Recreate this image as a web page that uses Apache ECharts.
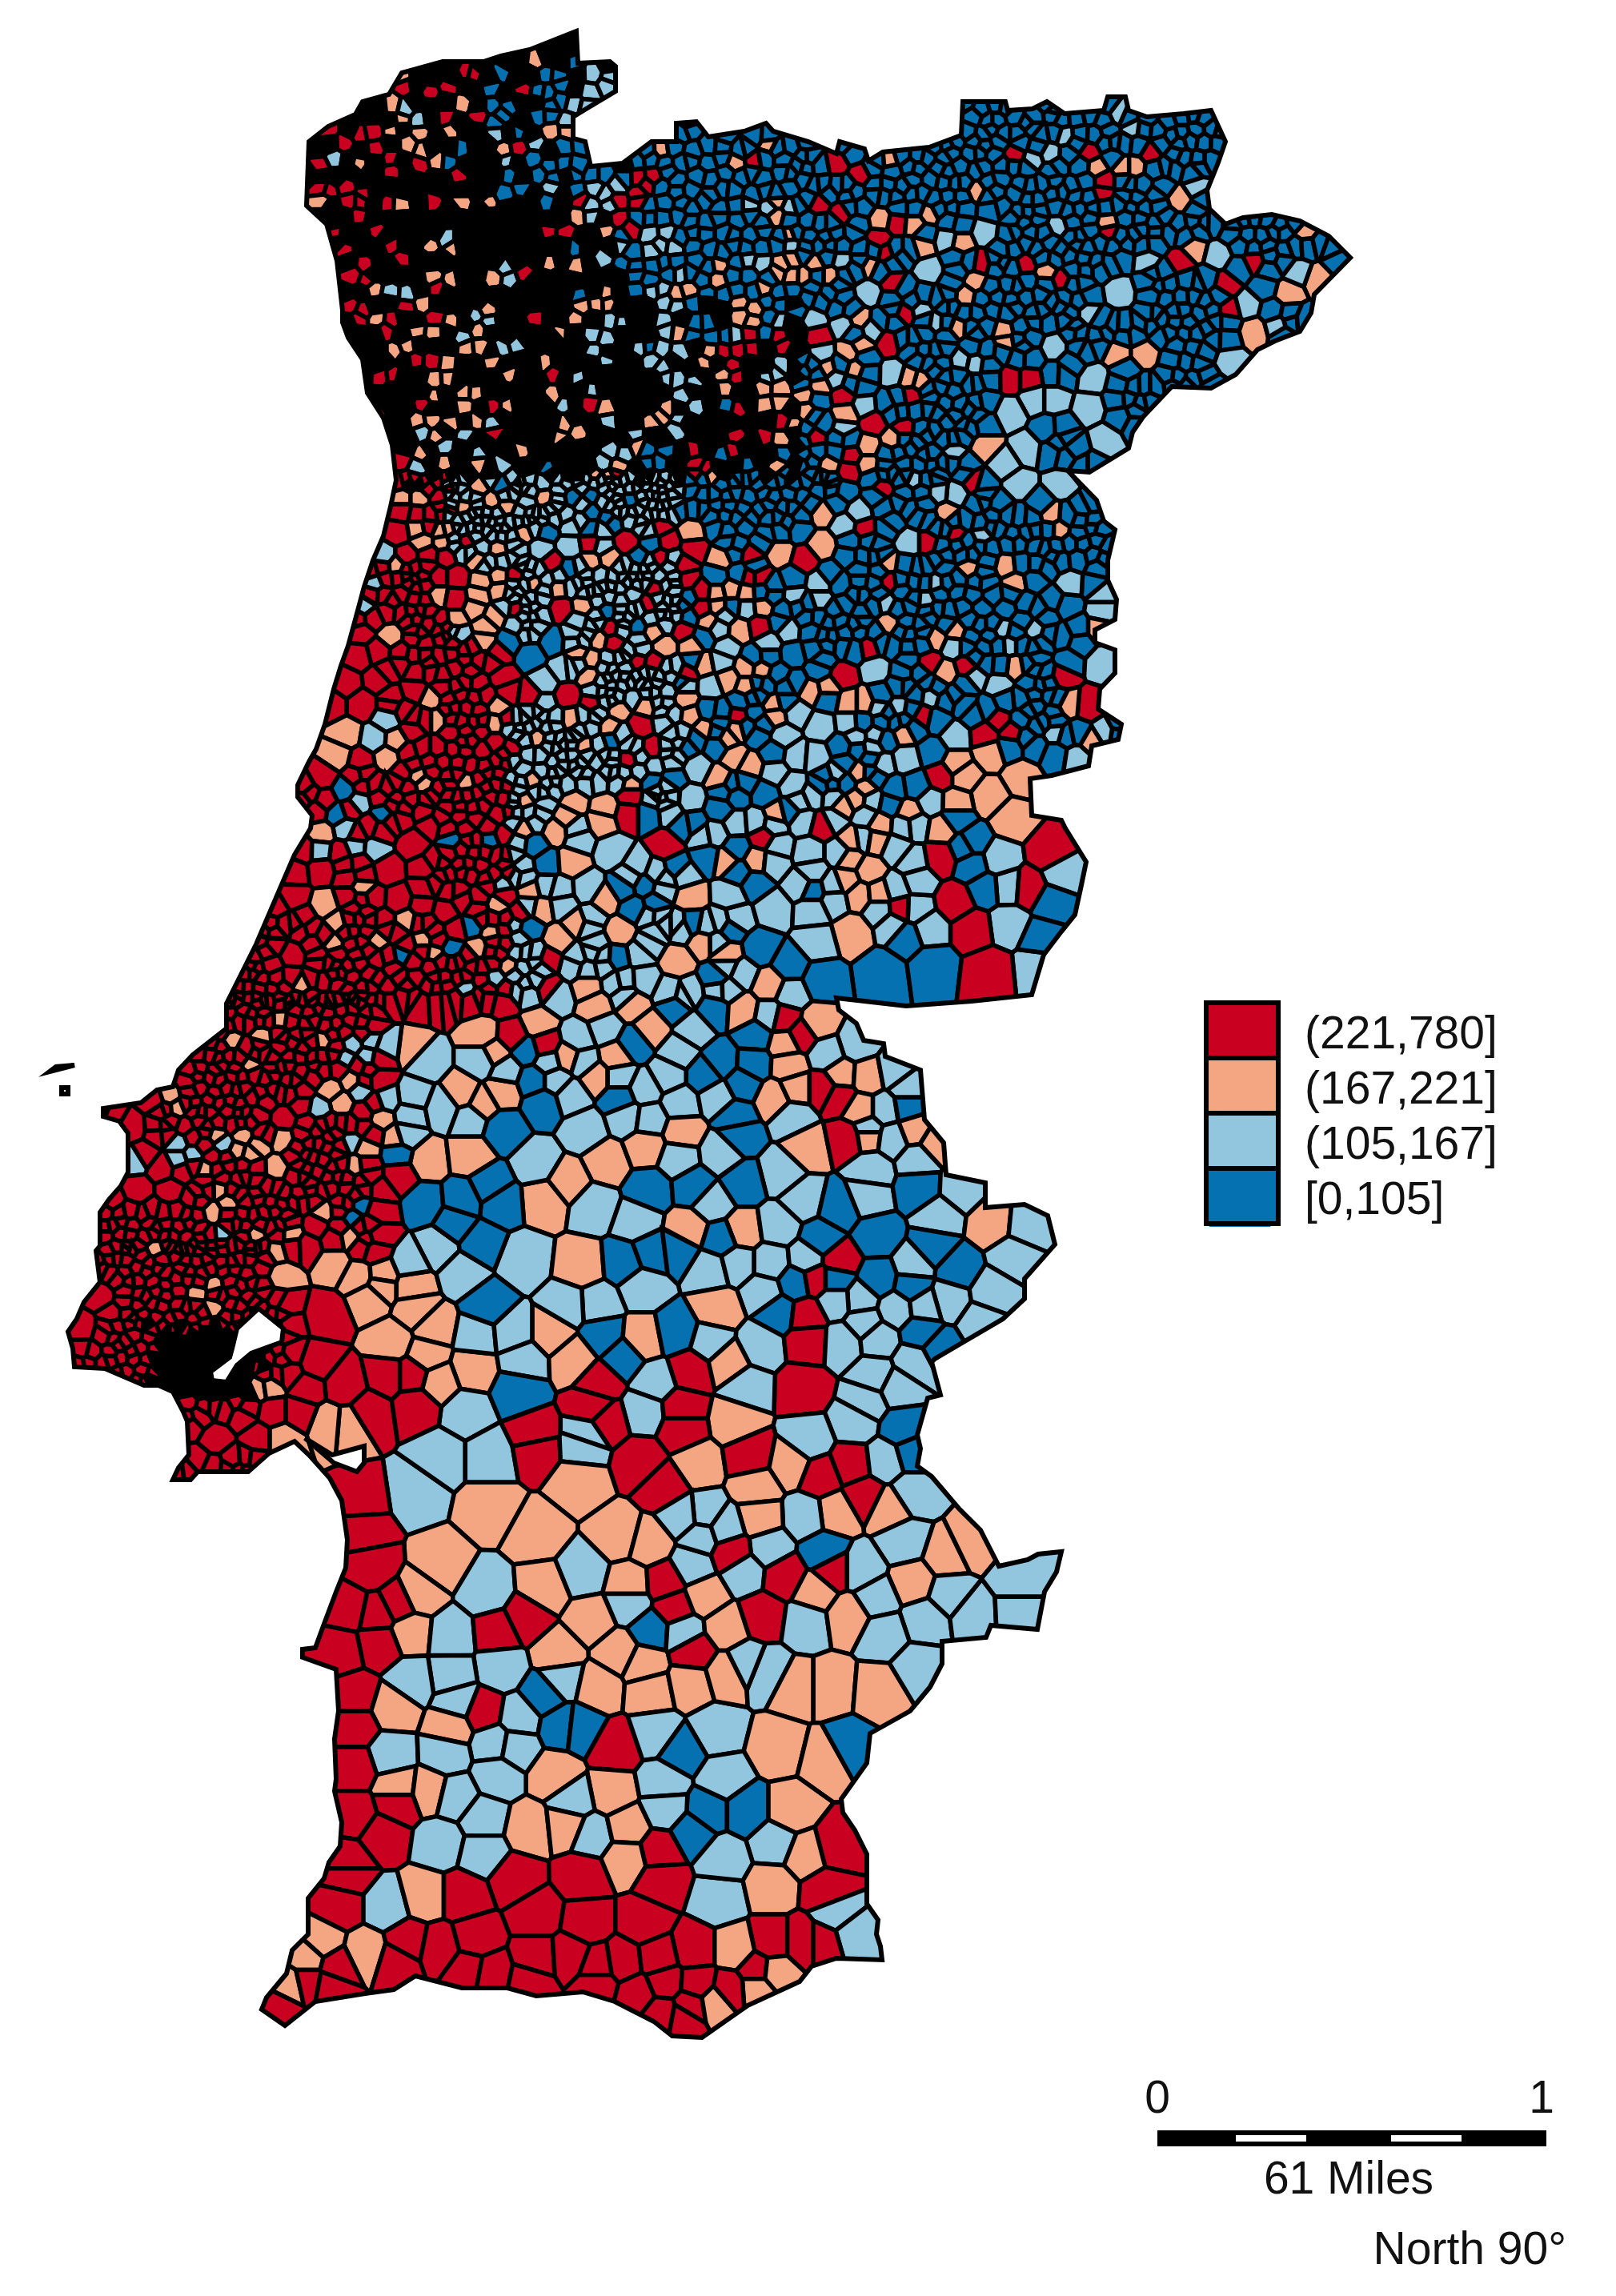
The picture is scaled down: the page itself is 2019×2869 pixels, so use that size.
<!DOCTYPE html>
<html><head><meta charset="utf-8"><style>html,body{margin:0;background:#fff}#c{width:2019px;height:2869px}</style>
<script src="https://cdn.jsdelivr.net/npm/echarts@6/dist/echarts.min.js"></script></head>
<body><div id="c"></div>
<script>
// ---------- legend classes ----------
const classLabels = ['(221,780]', '(167,221]', '(105,167]', '[0,105]'];
const classColors = ['#ca0020', '#f4a582', '#92c5de', '#0571b0'];
const classBreaks = [[221, 780], [167, 221], [105, 167], [0, 105]];
// representative value of each class, letters r/o/l/b; "." = parishes too small to show anything but border
const classValue = { r: 300, o: 190, l: 135, b: 60 };

// ---------- country outline (map units) ----------
const coastline = [[720,39],[662,62],[626,70],[604,77],[553,77],[502,91],[486,118],[453,127],[444,143],[410,158],[386,177],[383,257],[408,280],[421,326],[428,388],[428,403],[435,422],[453,449],[459,491],[479,522],[490,556],[495,600],[488,633],[479,670],[466,700],[455,733],[444,774],[435,807],[426,832],[417,861],[406,905],[395,936],[386,952],[372,981],[372,996],[390,1019],[388,1035],[368,1068],[350,1110],[320,1180],[290,1240],[283,1254],[283,1285],[241,1318],[223,1337],[216,1358],[196,1362],[176,1378],[129,1385],[129,1395],[149,1401],[160,1416],[160,1465],[151,1482],[136,1499],[125,1515],[125,1557],[120,1563],[125,1602],[105,1627],[96,1648],[85,1664],[91,1685],[93,1708],[131,1710],[180,1731],[198,1731],[216,1739],[229,1764],[234,1776],[236,1818],[223,1834],[216,1849],[238,1849],[247,1839],[310,1839],[336,1816],[368,1801],[386,1818],[412,1847],[427,1875],[434,1924],[432,1959],[420,1989],[405,2029],[394,2059],[378,2061],[378,2071],[420,2086],[423,2138],[418,2173],[420,2223],[418,2238],[427,2277],[425,2307],[411,2327],[405,2347],[385,2372],[385,2417],[365,2437],[358,2466],[333,2496],[327,2511],[356,2531],[394,2501],[456,2491],[492,2486],[519,2469],[577,2484],[634,2484],[670,2494],[728,2489],[768,2501],[817,2526],[840,2544],[877,2546],[934,2506],[999,2476],[1014,2457],[1045,2447],[1102,2449],[1100,2432],[1095,2417],[1097,2399],[1083,2379],[1083,2317],[1068,2287],[1053,2265],[1051,2248],[1083,2203],[1087,2166],[1137,2138],[1162,2108],[1177,2079],[1177,2051],[1232,2046],[1238,2031],[1296,2036],[1305,1989],[1320,1964],[1326,1939],[1297,1942],[1284,1949],[1248,1957],[1225,1912],[1198,1885],[1164,1845],[1146,1832],[1150,1810],[1146,1793],[1159,1747],[1175,1743],[1164,1702],[1168,1698],[1190,1685],[1253,1648],[1280,1623],[1280,1598],[1318,1555],[1309,1519],[1280,1505],[1231,1509],[1231,1478],[1182,1468],[1179,1428],[1155,1399],[1150,1337],[1106,1320],[1104,1304],[1079,1300],[1070,1279],[1048,1262],[1045,1247],[1132,1257],[1214,1251],[1289,1243],[1304,1193],[1326,1164],[1343,1143],[1351,1106],[1357,1077],[1331,1035],[1326,1025],[1289,1019],[1287,973],[1314,969],[1360,957],[1364,932],[1397,924],[1401,905],[1372,886],[1374,861],[1393,841],[1393,812],[1368,803],[1368,787],[1393,774],[1395,749],[1384,725],[1384,700],[1393,662],[1379,651],[1370,625],[1334,588],[1361,590],[1410,560],[1415,540],[1428,521],[1464,483],[1513,485],[1544,468],[1571,437],[1593,426],[1624,414],[1638,391],[1642,368],[1687,322],[1660,295],[1624,276],[1589,268],[1553,272],[1531,280],[1511,261],[1508,238],[1522,203],[1531,177],[1513,138],[1479,142],[1433,146],[1410,138],[1406,121],[1384,121],[1379,138],[1330,142],[1308,127],[1290,136],[1259,138],[1256,127],[1203,127],[1201,169],[1161,184],[1103,190],[1085,201],[1080,186],[1049,177],[1045,192],[1010,177],[966,164],[957,154],[930,164],[885,171],[870,152],[845,154],[845,177],[814,177],[778,204],[738,208],[731,177],[716,173],[716,146],[734,135],[769,114],[769,83],[762,77],[722,79]];
const tejoEstuary = [[323,1635],[354,1660],[352,1677],[314,1691],[296,1706],[283,1727],[265,1725],[263,1714],[287,1696],[290,1685],[296,1660]];
const sadoEstuary = [[381,1797],[415,1818],[455,1807],[455,1828],[446,1839],[417,1828]];
const islands = [[[62,1339],[93,1331],[70,1333]],[[77,1359],[85,1359],[85,1367],[77,1367]]];

// ---------- far-north-west parishes read row by row: "column class" ----------
const northRows = ["","","16o19b","7o11r12r14b17b18b20l21l","7r9r10r13b15r16b17b18b20l21l","6o7l11o13b14b17b18b19l20l","7o8l10r12r13b14b16b17b18l","2r4r5r6o8o10o13l15b17o18o","3r5r7o8o11b14o15r16l18b19b25o26b27b28b29b30b32o33b34b","1r2l4o6r8r9o10b14l16b17b18b19b25b26b27b28b30o31r32b33b34b","6r11r14b16b17b19b20b21b22b23r24r25b26b27b28b30b32b33b34b","1r2r3r4r14b15b17l19b20l21l22l23r24r26b28b29b30b31b33b","1o3r4r6r7o9r11o13o17b19r20l21l22r23r25b26b27b28b29b31l32l33o34l","4r19o20l22r23b25b28b29b30b33o","2r5r10l17r18r21o22b23r24l25l27b28b29b30b32b33b34o","3r6r9o10o19b22l23b24l25l26l27b28b29b30b31b33b34l","4r7r14l17o19o21l22b24b25b27b29o30b31l32l33o34o","3r4r9o10o13o14l15r23b25b26l29o30b33o34o","5o6l7l9r19b21o24l25l26o27o30b32o33b34b","3r4r7r8o13o19o20o21o25l26l27b30o31o32b33b","4r5o6r9r10o12l13l16r19o21l22l25l27b28b30o31o32b33l","2r6r8o9o11l12o18o20l21l25l26o27b28b29b30l31r32b33r","6o7o11o12o14l15l20l23l24b25l26l28o29r30r31r33r","8r9r10o13o17o21l24l25l28o30r33l","3r5r6r9o10o14o17r19l25l26l27l29o30r32l33l","9o11o12o17o20l26l29o32o33o","5r8r11o13r14o18l20r21o25o27l29b30r32o33o","8o9o10o12o13l18o21l24o25o26l33r34o","8l9o11l13r18o19o23l26l30r32r33o","8o10l12l15o21l22l23o24b25b27r29b30r33b","7r8l10o12o14l17b21l22o24b25b27r28r31b33o","16l20o21o22r23r25l27r28o30b31b33b"];

const cropNE = "100,270,r 170,310,r 50,405,r 115,435,r 220,520,r 270,465,r 240,565,r 810,235,r 980,235,r 600,245,r 845,370,r 850,330,r 860,495,r 1065,590,R 1270,590,r 1190,670,r 1200,750,r 505,600,r 630,600,r 730,650,r 260,660,r 290,760,r 50,835,R 250,855,r 590,975,R 640,975,r 310,1030,r 205,1120,R 290,1135,r 40,1165,r 140,1225,r 135,1275,R 230,1330,r 485,1310,r 180,1465,r 435,1480,r 360,1510,r 120,1030,r 250,260,o 905,285,o 935,285,o 830,285,o 495,360,o 1060,390,O 360,435,o 225,455,O 320,470,o 450,530,o 340,540,o 195,605,o 40,600,o 85,640,o 10,640,o 490,655,o 460,705,o 165,780,o 440,805,o 570,820,o 575,855,o 690,625,o 855,465,o 1100,550,o 1415,495,o 1450,650,O 1365,695,O 1270,820,O 885,890,o 965,890,O 170,865,o 135,890,o 155,945,o 75,940,o 335,985,o 305,975,o 125,1090,O 15,1080,o 190,1195,o 260,1175,o 515,1195,O 80,1255,o 190,1255,o 60,1410,o 410,1415,o 700,1420,o 725,1470,o 60,1520,O 10,1030,o 55,1000,o 650,260,l 700,240,l 740,180,l 890,110,l 930,155,l 1110,350,l 515,495,L 720,475,l 410,520,l 360,620,L 115,590,l 190,695,L 340,750,l 380,790,l 40,780,l 120,800,l 200,815,l 890,690,L,34 970,590,l 1170,570,L,30 1390,625,l 1250,735,L 1335,800,l 1200,915,L 805,760,l 710,870,L 60,895,l 450,915,l 490,925,l 260,960,L 100,975,l 820,975,L,30 655,1040,L 710,1040,L 810,1070,L,30 585,1085,L,30 855,1175,L,34 635,1205,L,30 570,1255,L 610,1320,L,34 730,1320,L,34 435,1350,L 120,1140,l 180,1060,l 430,1215,l 165,1410,L 125,1455,l 305,1510,L 510,1485,l 320,1305,l 385,1345,l";
const cropW = "445,50,r 340,50,o 390,50,o 555,20,o 620,15,b 735,10,l 740,50,o 820,50,b 870,45,b 980,60,b 1170,55,o 1230,20,b 1300,20,b 1400,25,l 340,95,r 385,105,r 420,105,r 515,80,o 590,65,o 635,80,o 690,65,l 800,105,l 870,95,b 920,115,b 1130,100,o 1210,105,b 1310,105,B 1480,115,b 1400,70,b 330,155,R 385,145,o 470,150,o 450,155,o 680,155,o 745,150,b 870,145,b 1150,150,O 1250,150,b 1065,140,r 930,125,b 400,185,o 455,185,o 520,185,r 565,200,l 610,205,o 730,210,L 810,200,L 870,190,r 970,185,R 1155,205,R 1240,240,O 1320,225,r 1395,220,O 1510,195,O 1040,190,b 1085,185,r 290,230,l 355,230,r 415,225,r 465,230,r 325,260,o 550,240,o 620,245,l 870,245,o 920,235,o 1065,235,r 1130,260,r 1465,240,r 1005,235,b 760,250,r 440,290,r 495,290,R 565,300,o 610,285,o 660,285,r 810,270,b 895,290,l 1060,290,l 1140,295,r 1225,295,b 1305,290,r 1435,290,B 1340,290,r 1515,310,l 265,310,l 745,300,l 710,310,o 340,345,r 375,360,r 440,350,o 490,360,R 555,350,o 615,335,o 780,325,o 920,350,l 985,345,l 1050,325,r 1180,335,r 1220,340,o 1265,335,o 1445,350,l 1350,335,b 235,380,l 300,395,r 545,385,O 660,385,r 785,385,R 850,375,o 915,395,b 1030,375,r 1180,385,r 1220,380,o 1305,385,l 1350,380,o 1405,395,b 1240,405,l 260,415,r 415,435,r 490,420,o 575,440,O 660,435,l 835,430,l 925,445,r 1000,440,b 1130,445,R 1290,445,O 1350,440,r 1430,450,l 600,410,o 310,470,O 405,490,r 570,485,o 640,485,b 760,485,B 890,480,o 935,490,r 1045,455,o 1075,500,O 1190,470,l 1355,490,l 1520,490,l 220,530,R 275,515,r 340,520,r 445,530,r 700,525,B 835,520,o 870,540,o 1000,545,r 1045,550,r 1185,550,o 1240,545,L 1435,525,b 1150,500,o 185,610,r 300,575,r 380,575,r 490,565,r 590,550,r 620,595,R 740,610,L 865,590,o 1140,580,r 1300,575,o 1350,570,o 1250,595,o 1560,575,r 375,635,R 230,675,R,30 275,600,r 425,660,o 635,640,R 805,650,R,30 700,650,r 985,655,l 1080,635,l 1195,620,L 1130,660,o 1490,630,o 1535,620,o 1285,630,o 350,695,r 300,720,l 405,720,r 440,720,o 610,680,o 875,670,r 945,690,o 1025,680,o 1100,705,l 1145,710,o 1380,670,o 1445,700,L 1510,740,L 185,765,O,30 265,780,l 325,785,o 370,755,r 520,755,r 480,760,r 600,735,o 815,720,o 720,775,o 1010,740,R 870,745,l 920,745,o 1100,765,l 1185,745,o 1250,780,o 1400,775,l 160,830,O,30 300,835,O 400,810,r 440,810,r 650,810,r 600,790,r 730,830,l 850,800,o 925,785,b 1040,810,r 1275,835,O 1390,805,b 1450,815,l 1510,830,L 120,895,R 385,890,o 500,850,r 680,870,l 885,850,l 975,840,r 1045,860,l 1165,870,l 1380,880,L 1530,880,l 1320,860,o 180,935,b 300,930,r 405,915,o 520,910,o 605,915,r 705,905,o 800,915,l 890,905,l 980,915,o 1100,900,b 1235,895,o 1300,910,b 1040,910,b 125,965,r 220,970,l 685,965,o 820,970,O 910,985,O 740,975,l 1160,965,L 1355,950,B 1260,960,b 980,950,r 160,1005,b 290,1005,b 400,995,r 470,985,r 610,1005,r 975,1005,R 800,1015,o 1030,1005,b 1230,1000,b 1340,1030,l 1440,1030,l 1390,1005,o 115,1065,O 185,1050,l 250,1045,r 420,1040,r 520,1050,r 680,1050,o 770,1055,O 900,1030,O 1145,1060,b 1230,1060,l 1525,1045,r 110,1115,l 210,1105,l 265,1110,l 375,1095,R,34 480,1085,b 585,1085,b 710,1100,b 930,1115,L,34 1080,1100,R,34 1355,1080,r 1190,1135,b 1295,1115,b 1400,1130,l 1490,1120,L 115,1175,R,30 220,1155,r 300,1175,R 405,1170,r 560,1160,r 745,1155,B 815,1150,O 860,1230,L,30 1110,1170,b 1250,1170,b 1135,1190,l 40,1255,R 230,1225,o 500,1235,r 620,1215,l 700,1235,o 1020,1220,b 1240,1220,l 1310,1225,b 1460,1270,L,34 960,1230,b 125,1280,O 330,1265,R,30 460,1300,R 555,1255,r 610,1280,o 670,1305,r 730,1290,o 790,1280,l 910,1265,o 1145,1260,O,34 990,1290,b 1050,1275,b 10,1340,r 160,1335,o 355,1330,o 540,1345,b 590,1360,o 695,1350,b 830,1335,o 950,1360,O,34 1250,1355,b 1160,1345,b 1350,1340,b 1550,1350,o 35,1430,R 90,1395,r 150,1395,o 270,1385,o 400,1385,o 480,1410,b 555,1410,o 780,1385,O,30 1030,1400,l 1200,1395,o 1340,1410,B,30 160,1430,r 270,1445,r 340,1430,b 430,1425,o 640,1465,o 750,1445,r 860,1475,l 940,1440,b 1110,1450,O,36 1265,1430,o 1430,1450,b 1480,1440,l 60,1520,o 120,1510,r 300,1525,r 380,1500,r 520,1530,l 600,1500,l 750,1530,r 860,1525,O,30 1020,1505,L 1120,1520,O 1360,1520,o 1510,1520,B 1210,1530,b";
const cropE = "155,35,O 260,30,b 60,20,r 315,15,b 625,20,l 670,20,r 950,40,r 1040,50,l 1260,35,o 1360,30,b 540,75,o 420,100,O 335,105,r 160,85,R 65,115,r 245,115,o 815,70,l 870,70,r 1105,135,O 1150,130,b 1330,90,B 1240,85,b 495,120,r 130,135,r 745,130,o 660,150,b 990,145,o 1195,130,b 30,75,b 60,170,l 140,180,r 230,170,b 330,170,r 360,170,r 460,175,B 540,190,l 605,190,b 705,190,b 750,185,r 890,190,l 1130,190,o 1190,180,b 1295,190,L 1390,220,l 40,205,r 120,215,r 185,215,r 230,220,o 275,210,o 320,220,o 465,230,l 1000,225,b 1240,240,b 1160,250,b 1030,265,b 185,265,r 235,260,o 320,265,l 370,260,o 430,270,b 540,240,l 740,250,l 860,240,l 1100,265,b 1390,275,L 255,285,l 300,330,O 205,305,o 130,330,r 235,325,l 360,320,r 445,330,l 750,310,o 950,335,o 1090,330,l 1190,330,l 1320,325,B 1380,325,o 1270,350,b 70,385,o 155,380,o 260,385,l 385,370,l 690,380,r 890,355,o 1115,375,l 945,380,l 1325,370,b 40,430,r 190,435,o 245,425,L 320,445,o 365,450,o 460,405,B 610,470,R,30 710,450,L,30 870,430,r 985,440,r 1130,440,o 1085,435,b 1290,425,B 1390,430,L 140,460,r 210,500,L 265,480,o 75,510,l 320,500,o 515,515,o 565,505,o 920,460,o 1080,495,L 1270,470,r 1010,470,l 135,540,o 30,560,o 400,555,o 470,580,l 630,550,o 675,550,o 720,565,l 780,565,l 875,530,l 975,555,b 1350,560,R,30 1290,555,o 1100,545,b 10,620,r 90,585,l 150,590,o 295,590,r 405,590,o 545,620,L,34 630,610,l 850,590,r 895,600,B 1150,600,b 1080,600,r 45,640,l 125,640,l 190,630,o 290,630,o 430,650,L 650,655,l 710,650,l 795,640,o 950,650,L 1040,645,R 1120,640,r 1250,640,l 1400,640,l 1360,665,o 260,655,o 30,690,r 85,680,r 400,700,B 470,710,l 530,715,L 700,685,l 880,700,B,30 1190,680,b 1250,705,B 1315,715,L 1055,700,o 285,715,O 170,745,L 330,740,o 45,745,l 730,735,l 800,720,L 660,760,o 950,735,o 1150,770,O,38 100,780,b 240,780,o 315,790,b 405,760,L 590,765,l 905,770,r 975,770,o 1050,830,O,50 950,850,O,30 1120,900,O,34 150,840,L 50,850,b 290,830,b 375,825,B 460,800,l 680,805,o 610,860,o 650,840,o 810,880,o 700,845,l 750,855,b 830,800,B 765,810,B 240,870,b 130,920,b 410,885,o 520,830,l 450,875,b 680,890,l 490,905,l 720,915,o 795,920,l 910,930,o 75,980,R,40 370,955,r 550,920,r 225,945,l 290,990,b 160,915,b 1000,970,b 950,900,b 635,965,o 710,965,o 200,1015,B 260,1025,o 350,1025,o 400,1030,l 510,1000,L,34 600,1000,l 630,1020,o 770,990,L 905,1015,R,30 820,1030,L 1080,1020,L,36 1235,1000,R,44 975,985,b 130,1070,l 295,1060,b 520,1060,l 690,1055,O 620,1085,o 835,1085,l 1000,1040,b 1270,1065,L 30,1105,b 150,1135,O,34 270,1130,L 345,1095,b 520,1115,b 580,1100,l 770,1110,l 950,1150,R,44 1040,1110,B 1170,1110,r 1240,1150,B,34 50,1160,b 400,1170,L,40 520,1175,l 660,1130,o 720,1125,o 720,1175,l 785,1170,r 1110,1215,L,36 20,1215,b 155,1215,b 270,1230,b 640,1240,O,44 530,1270,L,30 760,1220,l 870,1230,L 1210,1260,B,34 1000,1230,R 800,1255,b 20,1280,L 190,1270,o 360,1290,B,34 110,1340,O,34 260,1310,o 450,1340,B,34 730,1360,B,44 880,1340,B,40 1050,1360,R,50 30,1390,L 230,1380,b 390,1400,o 545,1385,B,30";
const cropLisbon = "650,60,o 600,105,o 510,120,o 770,120,o 1020,145,o 1215,100,o 1250,160,o 1370,70,o 790,270,O,25 820,310,O 340,290,o 360,325,o 565,195,o 850,240,o 1160,280,O 1270,275,O 1215,310,o 1530,230,o 930,355,o 470,405,o 545,405,o 655,420,o 590,435,o 890,445,o 970,415,o 530,455,o 565,465,o 440,510,o 640,505,O 1060,480,O 1180,465,O 480,570,o 505,610,o 460,640,o 770,635,o 860,500,o 300,750,o 580,705,o 680,705,o 845,710,o 650,830,O 800,790,O 870,830,o 935,825,o 930,860,o 465,855,o 415,880,o 635,755,o 1020,860,O 900,895,O 465,925,o 1030,930,O 1080,985,O 960,1030,O 1060,1070,O 1190,1110,O 1090,1150,o 1410,1000,o 1450,1090,O 1480,820,O 1390,600,O 1530,480,O 655,1320,o 590,1165,o 620,1160,o 840,1280,o 785,1275,o 850,130,l 830,175,l 905,120,l 945,135,l 895,170,l 1055,180,l 875,270,l 760,325,l 1020,290,l 1010,345,L 1105,325,l 1180,355,l 365,430,l 365,480,l 405,465,l 490,435,l 485,705,l 850,425,l 945,300,l 1000,405,l 1420,240,l 1455,280,L 1510,115,l 1500,185,l 1400,185,l 1280,210,l 1555,75,l 240,480,l 1215,180,l 1370,490,L 1470,400,L 1490,650,L 1330,780,L 1160,820,L 1090,745,L 1010,790,l 1530,900,L 1200,1010,L 1300,1000,L 1330,1085,L 1170,1240,L 1490,1300,L 1120,1365,L 1250,1360,L 1000,1400,L 1030,1500,L 1460,80,b 1510,70,b 1340,150,b 1360,240,b 1385,310,B 1275,385,B 1235,560,B 1265,610,B 1140,670,B 1210,730,B 1050,610,b 1160,600,b 875,615,b 850,655,b 975,460,b 1230,920,B 1315,1175,B 1545,1010,b 1545,310,b 660,355,R 775,950,R,45 750,1090,R 830,1160,R,30 720,1170,R 950,1130,R 1020,1130,R 700,1240,R 630,1240,R 900,1240,R 1030,1220,R 1360,1310,R 1530,1130,R 470,1320,R,35 585,1320,R 240,385,R 270,460,R 250,575,R 345,575,R 880,1470,R 980,530,R 750,680,R 150,890,R 95,990,R 1300,105,R 1390,135,R";
const cropMidE = "100,15,o 200,10,o 320,20,b 430,25,b 510,30,o 585,45,l 720,70,O 625,55,r 675,105,r 255,85,o 370,85,l 545,105,b 125,85,l 50,115,l 205,130,b 630,130,o 830,130,l 155,170,o 330,155,l 450,185,b 540,190,b 640,195,o 745,160,l 785,225,o 860,230,o 935,215,l 970,265,l 20,170,o 65,185,l 100,230,o 165,230,l 300,225,l 405,225,b 30,285,l 165,295,b 235,265,l 335,310,l 440,290,l 510,250,b 600,295,o 660,265,o 735,265,r 780,290,r 840,330,o 910,330,l 970,320,b 70,390,l 185,350,l 250,360,l 340,395,o 490,350,b 500,405,b 650,350,l 690,440,O 805,415,r 860,390,l 860,405,o 930,415,l 990,390,o 1050,430,o 130,485,o 240,440,o 330,475,l 450,460,l 620,520,l 870,510,L 1000,480,L 20,545,o 95,620,L 250,570,b 375,560,b 510,550,b 425,610,l 680,600,l 780,625,b 860,590,l 1005,565,b 1120,570,l 215,665,l 360,690,o 510,695,o 610,680,l 885,710,B 1060,650,L 1210,670,o 1305,680,l 450,720,b 730,720,b 60,800,o 180,790,b 255,760,b 330,750,b 420,810,l 495,790,l 590,790,l 690,780,l 780,785,r 1045,745,b 1110,810,b 1270,770,l 990,800,l 230,860,L 570,880,l 660,850,b 715,840,r 770,840,b 840,900,l 890,840,b 985,860,b 1085,900,l 1210,880,l 105,915,l 440,930,O 20,920,l 610,940,b 690,950,r 770,905,l 940,930,l 1020,920,l 1180,970,l 850,970,l 120,1010,b 230,1020,O 325,1000,b 420,1030,l 560,1040,l 695,1025,r 790,1030,l 890,1020,l 1010,1000,B 1060,1050,b 175,1075,b 40,1080,O 365,1115,r 470,1090,o 680,1170,R 880,1130,l 990,1090,l 520,1165,l 945,1165,l 855,1210,l 265,1150,l 110,1150,R 90,1225,r 235,1240,l 340,1230,r 490,1265,O 825,1270,l 960,1290,B 130,1270,r 75,1310,l 340,1290,r 530,1360,R 695,1325,l 230,1390,R 385,1400,O 640,1405,o 735,1420,r 815,1390,r 905,1400,l 60,1450,O 285,1470,r 530,1470,o 850,1500,r 985,1480,l 250,1520,o 380,1530,l 660,1520,l 765,1530,o 900,1535,o 550,1550,o 80,1540,o";
const cropSW = "490,130,L 560,40,l 700,40,l 830,20,r 960,15,l 1120,50,R 1280,60,O 1430,35,R 340,150,r 345,225,r 700,170,O 950,100,O 1190,115,r 1300,185,l 1430,125,o 1500,190,o 560,310,O 830,235,O 1060,240,O 1145,260,o 365,320,R 500,385,o 690,380,l 850,370,o 960,330,l 1090,360,o 1190,355,r 1265,315,l 1410,335,l 1530,340,r 1240,190,l 1290,240,l 1360,215,l 1450,195,o 305,420,r 440,410,r 385,435,r 475,480,o 590,490,L 800,445,r 720,480,r 1090,410,l 985,450,O 1150,475,b 1215,420,r 1300,390,o 1240,480,l 1460,440,R 1370,470,o 1550,440,l 390,510,R 280,530,R 890,535,o 730,570,L 590,590,l 480,605,l 1060,530,o 1130,560,o 1270,530,r 1355,585,o 1470,590,L 1540,560,o 320,640,r 430,670,o 610,655,l 680,680,r 850,640,B 900,600,l 1000,620,O 1150,630,o 1260,610,o 1400,640,l 320,720,r 590,720,o 780,695,l 900,715,b 950,720,b 1050,770,R 1165,735,l 1330,730,L 1500,770,O 420,790,L 710,760,l 770,770,l 575,785,l 1235,780,B 880,840,O 720,840,L 320,820,r 440,870,o 530,880,o 600,895,L 1040,885,o 1185,860,l 1355,850,L 930,905,l 320,940,r 440,910,r 680,950,l 810,975,O 915,965,o 985,990,l 1085,970,O 1310,930,B 1410,925,b 1190,925,l 1530,930,o 400,990,R 560,1010,L 680,1035,l 1265,985,b 1490,1015,l 300,1060,r 770,1100,R 960,1095,R 1175,1030,R 1350,1050,L 1080,1050,o 300,1090,r 1180,1105,R 280,1170,R 410,1170,L 515,1145,O 625,1145,r 830,1190,R 1340,1150,L 1480,1125,O 1560,1150,r 970,1210,r 1130,1210,R 660,1250,R 470,1260,r 555,1275,r 230,1260,o 350,1285,o 1270,1280,R 1390,1280,O 1500,1260,R 190,1300,o 270,1320,r 440,1310,r 640,1330,r 830,1300,r 925,1295,r 1070,1310,r 1000,1320,r 1170,1300,r 140,1370,o 190,1360,r 250,1370,r 700,1340,r 810,1360,r 1000,1365,r 1110,1390,r 1190,1360,r 1280,1365,r 1370,1380,r 1440,1370,o 1500,1340,o 110,1425,r 1260,1420,r 1330,1410,o 1180,1440,r 1240,1450,r";
const cropSE = "190,60,O 360,40,R 490,60,o 590,90,R 690,60,R 800,50,L 890,30,b 60,120,r 380,115,o 890,130,L 730,140,r 640,180,O 540,190,l 390,195,o 170,175,l 200,220,l 275,220,l 810,170,o 860,255,L 1000,290,O 1080,260,o 160,250,l 420,270,l 600,280,B 300,280,r 240,270,o 170,320,l 340,330,L 470,340,R 630,325,r 720,325,L 890,355,o 1010,385,l 1230,355,L 80,360,r 570,380,O 210,390,o 110,420,r 400,440,R 540,455,L 770,395,L 680,440,O 930,450,L 1090,435,L 1230,430,L 45,455,b 280,470,o 150,475,l 215,462,l 795,485,l 170,525,r 280,585,O 410,580,L 510,620,O 620,620,O 780,630,O 910,570,L 45,570,o 345,560,l 170,610,o 50,640,o 260,730,L 65,730,l 140,780,B 450,770,O 610,800,O 680,770,B 270,850,L 75,860,l 20,800,r 490,930,O 225,930,B 345,930,B 30,960,o 170,980,b 120,915,l 440,1010,L 640,1020,R 540,1040,O 270,1050,L 100,1030,r 95,1110,R 260,1150,L 430,1120,O 610,1130,R 70,1160,r 640,1190,l 690,1240,L 430,1260,R 530,1260,R 600,1260,R 310,1280,O 160,1280,R 60,1270,r 30,1320,r 380,1330,r 440,1335,o 380,1375,o 290,1380,R 175,1365,r 80,1360,r 20,1390,r 240,1410,o 130,1440,r 60,1435,r";

// ---------- geometry helpers (parish shapes are not published in the picture, so they are grown from the read points) ----------
const inside = (p, poly) => { let c = false; for (let i = 0, j = poly.length - 1; i < poly.length; j = i++) { const a = poly[i], b = poly[j]; if ((a[1] > p[1]) !== (b[1] > p[1]) && p[0] < (b[0] - a[0]) * (p[1] - a[1]) / (b[1] - a[1]) + a[0]) c = !c; } return c; };
const wobble = (i, j) => { let h = (i * 73856093 ^ j * 19349663) >>> 0; h = (h * 2654435761) >>> 0; return [((h >>> 8) & 255) / 255 - 0.5, ((h >>> 20) & 255) / 255 - 0.5]; };
const zones = [
  { x: [190, 320], y: [1660, 1750], pitch: 16, base: '.' },
  { x: [370, 1000], y: [30, 600], pitch: 18, base: '.', rows: northRows, x0: 380, y0: 40, eastBase: 'b' },
  { x: [1000, 1700], y: [100, 600], pitch: 16, base: 'b' },
  { x: [850, 1410], y: [600, 1000], pitch: 16, base: 'b' },
  { x: [850, 1410], y: [1000, 1250], pitch: 26, base: 'l' },
  { x: [290, 560], y: [600, 800], pitch: 11, base: 'r' },
  { x: [560, 850], y: [600, 800], pitch: 10, base: 'l' },
  { x: [290, 640], y: [800, 1250], pitch: 14, base: 'r' },
  { x: [640, 850], y: [800, 1000], pitch: 11, base: 'l' },
  { x: [640, 850], y: [1000, 1250], pitch: 16, base: 'l' },
  { x: [85, 470], y: [1250, 1560], pitch: 14, base: 'r' },
  { x: [85, 360], y: [1560, 1860], pitch: 14, base: 'r' }
];
let seeds = [];
zones.forEach((z, zi) => {
  const over = {};
  (z.rows || []).forEach((s, r) => { for (const m of s.matchAll(/(\d+)([a-z])/g)) over[(+m[1]) + '_' + r] = m[2]; });
  let j = 0;
  for (let y = z.y0 || z.y[0]; y < z.y[1]; y += z.pitch, j++) {
    let i = 0;
    for (let x = z.x0 || z.x[0]; x < z.x[1]; x += z.pitch, i++) {
      if (zones.slice(0, zi).some(q => x >= q.x[0] && x < q.x[1] && y >= q.y[0] && y < q.y[1])) continue;
      const w = wobble(i + zi * 97, j);
      const p = [x + (j % 2 ? z.pitch / 2 : 0) * (z.rows ? 0 : 1) + w[0] * z.pitch * 0.7, y + w[1] * z.pitch * 0.7];
      if (!inside(p, coastline)) continue;
      const base = z.eastBase && i >= 23 && j <= 18 ? z.eastBase : z.base;
      seeds.push({ x: p[0], y: p[1], c: over[i + '_' + j] || base, lat: true });
    }
  }
});
function addSpots(text, x0, y0, w, h, keep) {
  text.split(' ').forEach(t => {
    const a = t.split(','), x = x0 + a[0] / 1568 * w, y = y0 + a[1] / 1568 * h, up = a[2].toUpperCase() === a[2];
    if (!keep(x, y) || !inside([x, y], coastline)) return;
    const rad = a[3] ? +a[3] : (up ? 26 : 13);
    seeds = seeds.filter(s => !(s.lat && (s.x - x) ** 2 + (s.y - y) ** 2 < rad * rad));
    seeds.push({ x, y, c: a[2].toLowerCase() });
  });
}
addSpots(cropNE, 1000, 100, 700, 600, (x, y) => x >= 1000 && y < 690);
addSpots(cropW, 350, 600, 700, 650, (x, y) => x < 850 && y < 1250);
addSpots(cropE, 800, 650, 650, 650, (x, y) => x >= 850 && y < 1250 && (y >= 690 || x < 1000));
addSpots(cropLisbon, 60, 1250, 700, 650, (x, y) => x < 700 && y < 1800);
addSpots(cropMidE, 700, 1250, 700, 650, (x, y) => x >= 700 && y >= 1250 && y < 1800);
addSpots(cropSW, 300, 1800, 700, 780, (x, y) => x < 900 && y >= 1800);
addSpots(cropSE, 800, 1800, 600, 780, (x, y) => x >= 900 && y >= 1800);

// grow a convex cell round every point
const CELL = 64, buckets = new Map(), key = (a, b) => a * 100000 + b;
seeds.forEach((s, i) => { const k = key(Math.floor(s.x / CELL), Math.floor(s.y / CELL)); (buckets.get(k) || buckets.set(k, []).get(k)).push(i); });
function clip(poly, s, o) {
  const mx = (s.x + o.x) / 2, my = (s.y + o.y) / 2, nx = o.x - s.x, ny = o.y - s.y, out = [];
  const d = p => (p[0] - mx) * nx + (p[1] - my) * ny;
  for (let i = 0; i < poly.length; i++) {
    const a = poly[i], b = poly[(i + 1) % poly.length], da = d(a), db = d(b);
    if (da <= 0) out.push(a);
    if ((da < 0 && db > 0) || (da > 0 && db < 0)) { const t = da / (da - db); out.push([a[0] + (b[0] - a[0]) * t, a[1] + (b[1] - a[1]) * t]); }
  }
  return out;
}
const cellFeatures = [], cellData = [];
seeds.forEach((s, i) => {
  let poly = [[s.x - 320, s.y - 320], [s.x + 320, s.y - 320], [s.x + 320, s.y + 320], [s.x - 320, s.y + 320]];
  const cx = Math.floor(s.x / CELL), cy = Math.floor(s.y / CELL);
  for (let r = 0; r < 12; r++) {
    for (let a = cx - r; a <= cx + r; a++) for (let b = cy - r; b <= cy + r; b++) {
      if (Math.max(Math.abs(a - cx), Math.abs(b - cy)) !== r) continue;
      (buckets.get(key(a, b)) || []).forEach(j => { if (j !== i && poly.length) poly = clip(poly, s, seeds[j]); });
    }
    const R = Math.max(...poly.map(p => Math.hypot(p[0] - s.x, p[1] - s.y)), 0);
    if (r * CELL > 2 * R) break;
  }
  if (poly.length < 3) return;
  const name = 'p' + i;
  cellFeatures.push({ type: 'Feature', properties: { name }, geometry: { type: 'Polygon', coordinates: [poly.concat([poly[0]]).map(p => [+p[0].toFixed(1), 2869 - +p[1].toFixed(1)])] } });
  if (classValue[s.c] !== undefined) cellData.push({ name, value: classValue[s.c] });
});
const flip = ring => ring.concat([ring[0]]).map(p => [p[0], 2869 - p[1]]);
const fc = list => ({ type: 'FeatureCollection', features: list });
const poly = (name, ring) => ({ type: 'Feature', properties: { name }, geometry: { type: 'Polygon', coordinates: [flip(ring)] } });
const seaRing = [[720, 0], [2019, 0], [2019, 2869], [0, 2869], [0, 0], [720, 0]].concat(coastline.concat([coastline[0]]));
echarts.registerMap('parishes', fc(cellFeatures));
echarts.registerMap('sea', fc([poly('sea', seaRing), poly('tejo', tejoEstuary), poly('sado', sadoEstuary)]));
echarts.registerMap('coast', fc([poly('coast', coastline), poly('tejoLine', tejoEstuary), poly('sadoLine', sadoEstuary), poly('i1', islands[0]), poly('i2', islands[1])]));

const frame = { left: 0, top: 0, width: 2019, height: 2869, aspectScale: 1, boundingCoords: [[0, 2869], [2019, 0]], roam: false, silent: true, selectedMode: false, showLegendSymbol: false, label: { show: false }, emphasis: { disabled: true } };
const FONT = '"Liberation Sans", Arial, sans-serif';
const txt = (x, y, s, align) => ({ type: 'text', z: 50, x, y, style: { text: s, fill: '#111', font: '57px ' + FONT, textAlign: align, textVerticalAlign: 'bottom' } });
const rect = (x, y, w, h, fill, stroke) => ({ type: 'rect', z: 50, shape: { x, y, width: w, height: h }, style: { fill, stroke: stroke || null, lineWidth: 6 } });
const chart = echarts.init(document.getElementById('c'), null, { renderer: 'canvas' });
chart.setOption({
  animation: false, backgroundColor: '#fff',
  visualMap: { type: 'piecewise', seriesIndex: 0, selectedMode: false, hoverLink: false, left: 1504, top: 1260, orient: 'vertical', itemWidth: 90, itemHeight: 69, itemGap: 0, textGap: 36, padding: 0, align: 'left',
    textStyle: { fontFamily: 'Liberation Sans', fontSize: 57, color: '#111' },
    pieces: classBreaks.map((b, i) => ({ gt: b[0], lte: b[1], label: classLabels[i], color: classColors[i] })).map((p, i) => i === 3 ? { gte: 0, lte: 105, label: p.label, color: p.color } : p) },
  series: [
    Object.assign({ type: 'map', map: 'parishes', z: 1, data: cellData, itemStyle: { areaColor: '#000', borderColor: '#000', borderWidth: 5.5 } }, frame),
    Object.assign({ type: 'map', map: 'sea', z: 2, data: [], itemStyle: { areaColor: '#fff', borderWidth: 0, borderColor: 'rgba(0,0,0,0)' } }, frame),
    Object.assign({ type: 'map', map: 'coast', z: 3, data: [], itemStyle: { areaColor: 'rgba(0,0,0,0)', borderColor: '#000', borderWidth: 6 } }, frame)
  ],
  graphic: [
    rect(1498, 1533, 106, 12, '#fff'),
    ...[0, 1, 2, 3].map(i => rect(1507, 1253 + 69 * i, 90, 69, classColors[i], '#000')),
    rect(1446, 2662, 486, 20, '#000'), rect(1544, 2668, 88, 8, '#fff'), rect(1738, 2668, 88, 8, '#fff'),
    txt(1446, 2653, '0', 'center'), txt(1942, 2653, '1', 'right'), txt(1685, 2754, '61 Miles', 'center'), txt(1957, 2842, 'North 90°', 'right')
  ]
});
</script></body></html>
